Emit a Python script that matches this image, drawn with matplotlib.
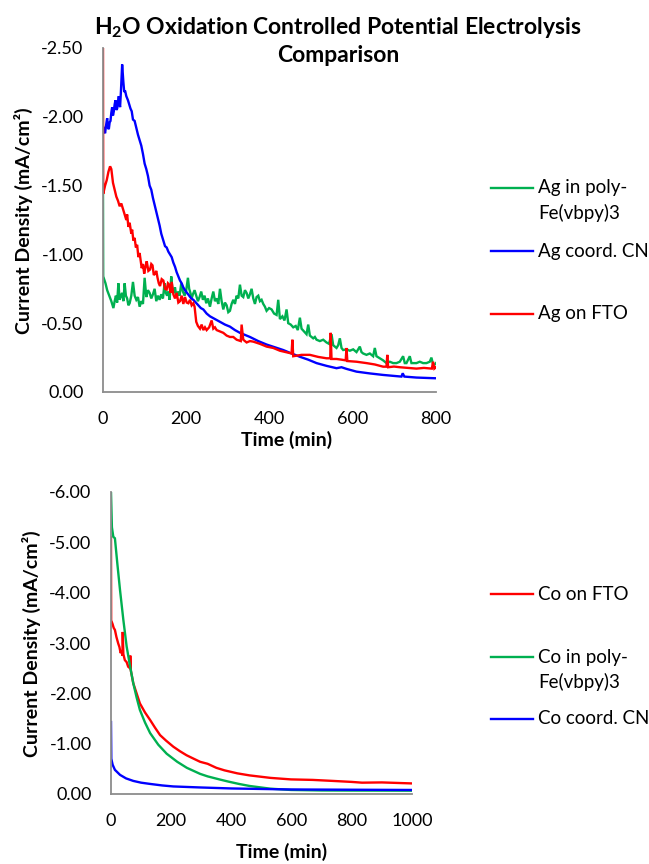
import numpy as np
import matplotlib
matplotlib.use("Agg")
import matplotlib.pyplot as plt
from matplotlib.lines import Line2D
from matplotlib.ticker import FuncFormatter

plt.rcParams['font.family'] = ['Lato', 'DejaVu Sans']
plt.rcParams['mathtext.fontset'] = 'custom'
plt.rcParams['mathtext.rm'] = 'Lato'
plt.rcParams['mathtext.bf'] = 'Lato:bold'

# ---------------- data (time in min, current density magnitude in mA/cm^2; plotted as negative) ----------
ag_poly = [(0, 1.45), (0.5, 0.84), (6, 0.79), (10, 0.74), (15, 0.70), (20, 0.66), (25, 0.61), (28, 0.66),
           (31, 0.70), (34, 0.65), (37, 0.79), (40, 0.67), (43, 0.70), (46, 0.72), (49, 0.66), (52, 0.79),
           (55, 0.70), (58, 0.68), (61, 0.63), (64, 0.645), (68, 0.70), (72, 0.80), (76, 0.70), (80, 0.67),
           (84, 0.69), (88, 0.62), (92, 0.66), (96, 0.64), (100, 0.83), (104, 0.69), (108, 0.74), (112, 0.72),
           (116, 0.68), (120, 0.71), (124, 0.75), (128, 0.66), (132, 0.70), (136, 0.67), (140, 0.71),
           (144, 0.68), (148, 0.79), (151, 0.72), (154, 0.70), (157, 0.73), (160, 0.67), (164, 0.84),
           (167, 0.74), (170, 0.72), (173, 0.76), (176, 0.69), (180, 0.73), (184, 0.70), (188, 0.79),
           (192, 0.73), (196, 0.70), (200, 0.74), (204, 0.83), (207, 0.75), (210, 0.72), (213, 0.68),
           (216, 0.71), (220, 0.74), (224, 0.70), (228, 0.66), (232, 0.69), (236, 0.73), (240, 0.67),
           (244, 0.70), (248, 0.645), (252, 0.68), (257, 0.62), (261, 0.68), (265, 0.73), (269, 0.66),
           (273, 0.68), (277, 0.64), (281, 0.75), (285, 0.66), (289, 0.60), (293, 0.65), (297, 0.63),
           (301, 0.58), (305, 0.59), (309, 0.64), (313, 0.67), (317, 0.64), (321, 0.70), (325, 0.68),
           (329, 0.78), (333, 0.70), (337, 0.69), (341, 0.74), (345, 0.72), (349, 0.68), (353, 0.71),
           (357, 0.75), (361, 0.68), (365, 0.64), (369, 0.69), (373, 0.70), (377, 0.66), (381, 0.67),
           (385, 0.64), (389, 0.62), (393, 0.59), (399, 0.61), (405, 0.60), (411, 0.57), (417, 0.56),
           (421, 0.67), (425, 0.53), (431, 0.55), (436, 0.52), (441, 0.60), (445, 0.50), (451, 0.49),
           (457, 0.47), (463, 0.48), (468, 0.45), (473, 0.54), (477, 0.46), (483, 0.44), (489, 0.42),
           (493, 0.49), (497, 0.41), (505, 0.39), (509, 0.40), (513, 0.38), (521, 0.37), (529, 0.38),
           (537, 0.36), (543, 0.35), (549, 0.42), (553, 0.34), (557, 0.33), (561, 0.32), (565, 0.34),
           (569, 0.39), (573, 0.32), (577, 0.305), (585, 0.31), (593, 0.30), (601, 0.31), (609, 0.29),
           (617, 0.33), (621, 0.29), (625, 0.28), (633, 0.27), (641, 0.28), (649, 0.26), (653, 0.32),
           (657, 0.26), (665, 0.245), (673, 0.23), (681, 0.21), (689, 0.22), (697, 0.21), (705, 0.21),
           (713, 0.22), (721, 0.26), (725, 0.21), (729, 0.21), (737, 0.26), (741, 0.21), (745, 0.21),
           (753, 0.21), (761, 0.22), (769, 0.21), (777, 0.21), (785, 0.22), (789, 0.25), (793, 0.20),
           (797, 0.20), (800, 0.21)]

ag_cn = [(0, 1.93), (3, 1.90), (5, 1.88), (7, 1.93), (10, 1.99), (12, 1.92), (14, 1.91), (16, 1.96),
         (18, 1.97), (20, 2.03), (22, 2.07), (24, 2.01), (26, 2.04), (28, 2.09), (30, 2.12), (32, 2.05),
         (34, 2.06), (36, 2.11), (38, 2.15), (40, 2.09), (41, 2.07), (43, 2.18), (46, 2.38), (49, 2.25),
         (51, 2.18), (53, 2.19), (56, 2.15), (60, 2.12), (63, 2.09), (66, 2.06), (69, 2.04), (72, 1.98),
         (76, 1.97), (80, 1.92), (84, 1.87), (88, 1.83), (92, 1.79), (96, 1.73), (100, 1.66), (104, 1.62),
         (108, 1.57), (112, 1.50), (116, 1.47), (120, 1.41), (124, 1.36), (128, 1.31), (132, 1.26),
         (136, 1.21), (140, 1.15), (144, 1.11), (149, 1.06), (153, 1.05), (157, 1.02), (161, 1.00),
         (165, 0.98), (169, 0.94), (173, 0.91), (177, 0.87), (181, 0.84), (185, 0.81), (189, 0.79),
         (193, 0.76), (197, 0.74), (202, 0.72), (207, 0.70), (212, 0.68), (217, 0.67), (223, 0.65),
         (229, 0.63), (235, 0.61), (241, 0.60), (249, 0.57), (257, 0.55), (269, 0.53), (281, 0.51),
         (293, 0.49), (305, 0.475), (317, 0.45), (329, 0.43), (341, 0.415), (353, 0.40), (373, 0.37),
         (393, 0.345), (413, 0.325), (433, 0.305), (453, 0.28), (473, 0.256), (493, 0.235), (513, 0.21),
         (537, 0.19), (561, 0.173), (573, 0.18), (585, 0.168), (609, 0.148), (641, 0.135), (673, 0.124),
         (717, 0.112), (720, 0.136), (724, 0.112), (753, 0.105), (797, 0.10), (800, 0.10)]

ag_fto = [(0, 2.55), (0.5, 1.44), (5, 1.50), (9, 1.54), (13, 1.60), (17, 1.64), (20, 1.62), (24, 1.52),
          (28, 1.47), (32, 1.42), (36, 1.39), (40, 1.35), (44, 1.37), (48, 1.33), (52, 1.29), (56, 1.25),
          (58, 1.29), (61, 1.20), (64, 1.23), (68, 1.15), (70, 1.18), (73, 1.10), (76, 1.12), (79, 1.05),
          (82, 1.07), (85, 0.98), (88, 1.01), (93, 0.90), (96, 0.93), (99, 0.86), (102, 0.91), (105, 0.95),
          (109, 0.88), (113, 0.89), (116, 0.93), (119, 0.92), (122, 0.85), (125, 0.86), (128, 0.88),
          (131, 0.83), (134, 0.79), (137, 0.77), (141, 0.82), (145, 0.81), (149, 0.75), (153, 0.745),
          (156, 0.79), (159, 0.78), (162, 0.72), (165, 0.80), (169, 0.71), (173, 0.68), (177, 0.72),
          (181, 0.65), (185, 0.66), (189, 0.70), (193, 0.64), (197, 0.69), (201, 0.65), (205, 0.645),
          (209, 0.67), (213, 0.63), (217, 0.645), (220, 0.62), (224, 0.51), (228, 0.48), (233, 0.46),
          (237, 0.49), (241, 0.45), (245, 0.47), (249, 0.45), (255, 0.47), (261, 0.52), (265, 0.46),
          (269, 0.47), (273, 0.45), (281, 0.44), (289, 0.43), (297, 0.41), (305, 0.40), (313, 0.40),
          (321, 0.38), (331, 0.37), (333, 0.49), (337, 0.38), (345, 0.36), (353, 0.37), (361, 0.366),
          (377, 0.35), (393, 0.33), (409, 0.32), (425, 0.30), (439, 0.29), (453, 0.28), (455, 0.38),
          (457, 0.26), (477, 0.27), (497, 0.27), (517, 0.255), (537, 0.245), (546, 0.245), (547, 0.43),
          (549, 0.24), (561, 0.24), (573, 0.235), (583, 0.23), (585, 0.32), (587, 0.225), (609, 0.22),
          (633, 0.21), (653, 0.20), (673, 0.184), (681, 0.184), (683, 0.27), (685, 0.18), (699, 0.185),
          (713, 0.18), (733, 0.175), (753, 0.17), (771, 0.175), (790, 0.17), (793, 0.22), (796, 0.17),
          (800, 0.18)]

co_fto = [(0, 5.1), (0.5, 3.45), (5, 3.38), (9, 3.30), (13, 3.26), (18, 3.12), (24, 2.99), (28, 2.92),
          (32, 2.80), (35, 2.84), (38, 2.75), (39, 3.22), (41, 2.78), (46, 2.66), (52, 2.62), (57, 2.53),
          (63, 2.50), (64, 2.75), (66, 2.45), (74, 2.20), (85, 2.00), (96, 1.80), (113, 1.62), (130, 1.47),
          (146, 1.32), (163, 1.17), (183, 1.06), (207, 0.94), (229, 0.85), (251, 0.77), (275, 0.70),
          (296, 0.64), (321, 0.60), (350, 0.52), (377, 0.47), (420, 0.41), (460, 0.37), (530, 0.32),
          (598, 0.29), (670, 0.28), (737, 0.26), (800, 0.24), (834, 0.225), (900, 0.23), (1000, 0.21)]

co_poly = [(0, 6.0), (3, 5.3), (7.7, 5.11), (13, 5.08), (21, 4.58), (30, 4.05), (41, 3.46), (52, 2.93),
           (63, 2.55), (74, 2.20), (85, 1.92), (96, 1.67), (113, 1.42), (130, 1.21), (157, 0.98),
           (185, 0.80), (220, 0.64), (252, 0.52), (296, 0.40), (321, 0.35), (360, 0.29), (391, 0.245),
           (425, 0.20), (460, 0.16), (529, 0.106), (598, 0.08), (700, 0.07), (800, 0.068), (1000, 0.066)]

co_cn = [(0, 1.43), (1, 0.70), (5.5, 0.58), (13, 0.48), (30, 0.38), (50, 0.31), (74, 0.26), (100, 0.225),
         (130, 0.20), (170, 0.17), (207, 0.15), (296, 0.13), (400, 0.11), (500, 0.10), (600, 0.09),
         (800, 0.085), (1000, 0.08)]

top_labels = ["Ag in poly-\nFe(vbpy)3", "Ag coord. CN", "Ag on FTO"]
bottom_labels = ["Co on FTO", "Co in poly-\nFe(vbpy)3", "Co coord. CN"]
top_yticks = [0.0, -0.5, -1.0, -1.5, -2.0, -2.5]
bottom_yticks = [0.0, -1.0, -2.0, -3.0, -4.0, -5.0, -6.0]
top_xticks = [0, 200, 400, 600, 800]
bottom_xticks = [0, 200, 400, 600, 800, 1000]

GREEN = "#00B050"
BLUE = "#0000FF"
RED = "#FF0000"
GRAY = "#8C8C8C"

W, H = 649, 864
fig = plt.figure(figsize=(W / 100, H / 100), dpi=100)


def ax_px(l, t, r, b):
    return fig.add_axes([l / W, 1 - b / H, (r - l) / W, (b - t) / H])


fmt = FuncFormatter(lambda v, p: f"{abs(v):.2f}" if abs(v) < 1e-9 else f"{v:.2f}")


def style(ax, xticks, yticks, xlim, ylim):
    for s in ("top", "right"):
        ax.spines[s].set_visible(False)
    for s in ("left", "bottom"):
        ax.spines[s].set_color(GRAY)
        ax.spines[s].set_linewidth(1.3)
    ax.set_xlim(*xlim)
    ax.set_ylim(*ylim)
    ax.set_xticks(xticks)
    ax.set_yticks(yticks)
    ax.yaxis.set_major_formatter(fmt)
    ax.tick_params(length=0, labelsize=13, colors="black")
    ax.tick_params(axis="y", pad=14)
    ax.tick_params(axis="x", pad=14)


def draw(ax, data, color):
    t = np.array([d[0] for d in data])
    v = -np.array([d[1] for d in data])
    ax.plot(t, v, color=color, lw=1.7, solid_joinstyle="miter")


def px_text(x, y, s, **kw):
    fig.text(x / W, 1 - y / H, s, **kw)


LBL = dict(fontsize=14, fontweight="bold", ha="center", va="center")

# ---------------- top chart ----------------
ax1 = ax_px(103, 48, 436, 392)
draw(ax1, ag_poly, GREEN)
draw(ax1, ag_cn, BLUE)
draw(ax1, ag_fto, RED)
style(ax1, top_xticks, top_yticks, (0, 800), (0, -2.5))
px_text(287, 440, "Time (min)", **LBL)
px_text(23, 221, "Current Density (mA/cm²)", rotation=90, **LBL)

# ---------------- bottom chart ----------------
ax2 = ax_px(111, 492, 412, 794)
draw(ax2, co_fto, RED)
draw(ax2, co_poly, GREEN)
draw(ax2, co_cn, BLUE)
style(ax2, bottom_xticks, bottom_yticks, (0, 1000), (0, -6))
px_text(282, 852, "Time (min)", **LBL)
px_text(31, 644, "Current Density (mA/cm²)", rotation=90, **LBL)

# ---------------- title ----------------
px_text(338, 27, r"H$_\mathbf{2}$O Oxidation Controlled Potential Electrolysis",
        ha="center", va="center", fontsize=16.5, fontweight="bold")
px_text(338, 56, "Comparison", ha="center", va="center", fontsize=16.5, fontweight="bold")


# ---------------- legends ----------------
def legend(ys, labels, colors):
    for y, lab, c in zip(ys, labels, colors):
        fig.add_artist(Line2D([491 / W, 533 / W], [1 - y / H, 1 - y / H], color=c, lw=1.7,
                              transform=fig.transFigure))
        for i, line in enumerate(lab.split("\n")):
            px_text(538, y + 25 * i, line, ha="left", va="center", fontsize=13.5)


legend([188, 251, 314], top_labels, [GREEN, BLUE, RED])
legend([594, 657, 719], bottom_labels, [RED, GREEN, BLUE])

fig.savefig("out.png", dpi=100, facecolor="white")
